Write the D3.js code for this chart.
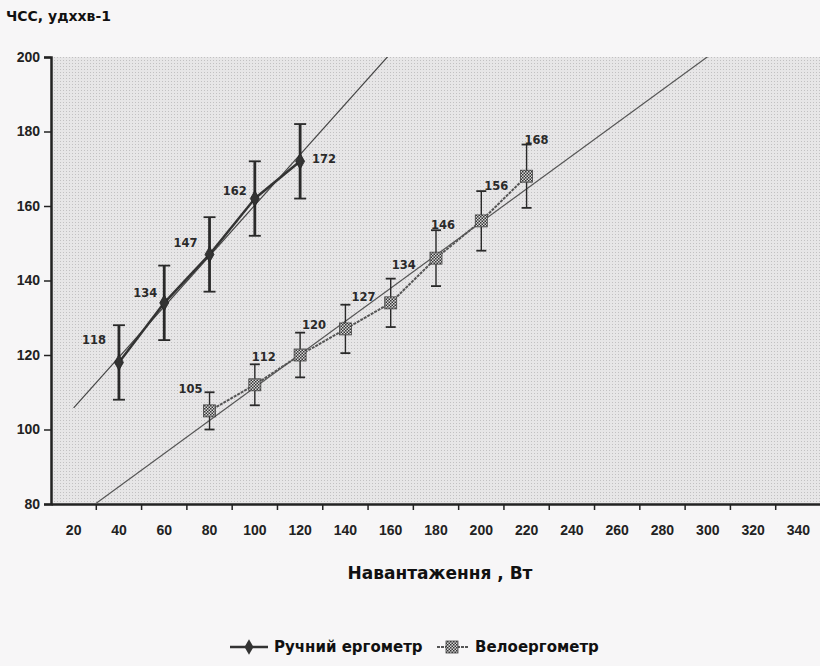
<!DOCTYPE html>
<html>
<head>
<meta charset="utf-8">
<script src="https://cdn.jsdelivr.net/npm/d3@7"></script>
<style>
  body { margin: 0; background: #f7f6f7; }
  svg { font-family: "DejaVu Sans", "Liberation Sans", Arial, sans-serif; }
</style>
</head>
<body>
<div id="chart"></div>
<script>
// chart values
const categories = [20, 40, 60, 80, 100, 120, 140, 160, 180, 200, 220, 240, 260, 280, 300, 320, 340]
const yTicks = [80, 100, 120, 140, 160, 180, 200]

const manualLoad = [40, 60, 80, 100, 120]
const manualHR = [118, 134, 147, 162, 172]
const manualErr = [10, 10, 10, 10, 10]

const bikeLoad = [80, 100, 120, 140, 160, 180, 200, 220]
const bikeHR = [105, 112, 120, 127, 134, 146, 156, 168]
const bikeErr = [5, 5.5, 6, 6.5, 6.5, 7.5, 8, 8.5]

// label placement (layout only): dx, dy, anchor
const manualLabelPos = [[-13, -18, "end"], [-7, -6, "end"], [-12, -7, "end"], [-8, -4, "end"], [12, 2, "start"]]
const bikeLabelPos = [[-7, -18, "end"], [-3, -24, "start"], [2, -26, "start"], [6, -28, "start"],
  [1, -34, "start"], [-5, -29, "start"], [3, -31, "start"], [-2, -32, "start"]]

const MARGIN = { LEFT: 51, TOP: 57 }
const WIDTH = 770
const HEIGHT = 447

const svg = d3.select("#chart").append("svg")
  .attr("width", 820)
  .attr("height", 666)

const defs = svg.append("defs")
const stipple = defs.append("pattern")
  .attr("id", "stipple")
  .attr("width", 3).attr("height", 3)
  .attr("patternUnits", "userSpaceOnUse")
stipple.append("rect").attr("width", 3).attr("height", 3).attr("fill", "#e7e6e7")
stipple.append("rect").attr("width", 1).attr("height", 1).attr("fill", "#c2c1c2")

const checker = defs.append("pattern")
  .attr("id", "checker")
  .attr("width", 3).attr("height", 3)
  .attr("patternUnits", "userSpaceOnUse")
checker.append("rect").attr("width", 3).attr("height", 3).attr("fill", "#d8d8d8")
checker.append("rect").attr("width", 1.5).attr("height", 1.5).attr("fill", "#333")
checker.append("rect").attr("x", 1.5).attr("y", 1.5).attr("width", 1.5).attr("height", 1.5).attr("fill", "#333")

defs.append("clipPath").attr("id", "plotClip")
  .append("rect").attr("width", WIDTH).attr("height", HEIGHT)

const g = svg.append("g").attr("transform", `translate(${MARGIN.LEFT}, ${MARGIN.TOP})`)

g.append("rect").attr("width", WIDTH).attr("height", HEIGHT).attr("fill", "url(#stipple)")

const x = d3.scaleBand().domain(categories).range([0, WIDTH]).padding(0)
const bw = x.bandwidth()
const cx = v => x(v) + bw / 2
// continuous version of the category axis, for trend lines
const xLin = d3.scaleLinear().domain([20, 340]).range([cx(20), cx(340)])
const y = d3.scaleLinear().domain([80, 200]).range([HEIGHT, 0])

// y axis
const yAxis = g.append("g")
  .call(d3.axisLeft(y).tickValues(yTicks).tickSize(7).tickPadding(4))
yAxis.select(".domain").attr("stroke", "#222").attr("stroke-width", 2.5)
yAxis.selectAll(".tick line").attr("stroke", "#222").attr("stroke-width", 1.5)
yAxis.selectAll("text").attr("font-size", "14px").attr("font-weight", "bold").attr("fill", "#222")

// x axis (category labels between boundary ticks)
const xAxis = g.append("g")
  .attr("transform", `translate(0, ${HEIGHT})`)
  .call(d3.axisBottom(x).tickSize(0).tickPadding(21))
xAxis.select(".domain").attr("stroke", "#222").attr("stroke-width", 2.5)
xAxis.selectAll("text").attr("font-size", "14px").attr("font-weight", "bold").attr("fill", "#222")
xAxis.selectAll(".bound")
  .data(categories.slice(1).concat(["end"]))
  .join("line")
  .attr("class", "bound")
  .attr("x1", d => d === "end" ? WIDTH : x(d))
  .attr("x2", d => d === "end" ? WIDTH : x(d))
  .attr("y1", 0).attr("y2", 6)
  .attr("stroke", "#222").attr("stroke-width", 1.5)

// linear trend lines
function trend(xs, ys) {
  const mx = d3.mean(xs), my = d3.mean(ys)
  const sxy = d3.sum(xs, (v, i) => (v - mx) * (ys[i] - my))
  const sxx = d3.sum(xs, v => (v - mx) * (v - mx))
  const b = sxy / sxx
  return v => my + b * (v - mx)
}
const plot = g.append("g").attr("clip-path", "url(#plotClip)")
const trendLine = d3.line().x(d => xLin(d[0])).y(d => y(d[1]))
const tManual = trend(manualLoad, manualHR)
const tBike = trend(bikeLoad, bikeHR)
plot.append("path")
  .attr("d", trendLine([[20, tManual(20)], [340, tManual(340)]]))
  .attr("fill", "none").attr("stroke", "#444").attr("stroke-width", 1.2)
plot.append("path")
  .attr("d", trendLine([[20, tBike(20)], [340, tBike(340)]]))
  .attr("fill", "none").attr("stroke", "#555").attr("stroke-width", 1.2)

// series lines
const manual = manualLoad.map((v, i) => ({ load: v, hr: manualHR[i], err: manualErr[i], pos: manualLabelPos[i] }))
const bike = bikeLoad.map((v, i) => ({ load: v, hr: bikeHR[i], err: bikeErr[i], pos: bikeLabelPos[i] }))
const seriesLine = d3.line().x(d => cx(d.load)).y(d => y(d.hr))

plot.append("path").datum(manual)
  .attr("d", seriesLine)
  .attr("fill", "none").attr("stroke", "#333").attr("stroke-width", 2.5)
plot.append("path").datum(bike)
  .attr("d", seriesLine)
  .attr("fill", "none").attr("stroke", "#555").attr("stroke-width", 2)
  .attr("stroke-dasharray", "3,1")

// error bars
function errorBars(data, width, cap) {
  const eb = plot.append("g")
  eb.selectAll(".v").data(data).join("line")
    .attr("x1", d => cx(d.load)).attr("x2", d => cx(d.load))
    .attr("y1", d => y(d.hr + d.err)).attr("y2", d => y(d.hr - d.err))
    .attr("stroke", "#2a2a2a").attr("stroke-width", width)
  eb.selectAll(".t").data(data).join("line")
    .attr("x1", d => cx(d.load) - cap).attr("x2", d => cx(d.load) + cap)
    .attr("y1", d => y(d.hr + d.err)).attr("y2", d => y(d.hr + d.err))
    .attr("stroke", "#2a2a2a").attr("stroke-width", 1.8)
  eb.selectAll(".b").data(data).join("line")
    .attr("x1", d => cx(d.load) - cap).attr("x2", d => cx(d.load) + cap)
    .attr("y1", d => y(d.hr - d.err)).attr("y2", d => y(d.hr - d.err))
    .attr("stroke", "#2a2a2a").attr("stroke-width", 1.8)
}
errorBars(manual, 2.8, 6)
errorBars(bike, 1.4, 5)

// markers
const diamond = d3.symbol().type(d3.symbolDiamond).size(70)
plot.selectAll(".mk1").data(manual).join("path")
  .attr("transform", d => `translate(${cx(d.load)}, ${y(d.hr)})`)
  .attr("d", diamond)
  .attr("fill", "#333").attr("stroke", "#222").attr("stroke-width", 0.8)

plot.selectAll(".mk2").data(bike).join("rect")
  .attr("x", d => cx(d.load) - 6).attr("y", d => y(d.hr) - 6)
  .attr("width", 12).attr("height", 12)
  .attr("fill", "url(#checker)").attr("stroke", "#444").attr("stroke-width", 0.8)

// data labels
function labels(data) {
  g.append("g").selectAll("text").data(data).join("text")
    .attr("x", d => cx(d.load) + d.pos[0])
    .attr("y", d => y(d.hr) + d.pos[1])
    .attr("text-anchor", d => d.pos[2])
    .attr("font-size", "11.5px").attr("font-weight", "bold").attr("fill", "#2a2a2a")
    .text(d => d.hr)
}
labels(manual)
labels(bike)

// titles
svg.append("text")
  .attr("x", 6).attr("y", 21)
  .attr("font-size", "14px").attr("font-weight", "bold").attr("fill", "#111")
  .text("ЧСС, удxхв-1")

svg.append("text")
  .attr("x", 440).attr("y", 579)
  .attr("text-anchor", "middle")
  .attr("font-size", "17px").attr("font-weight", "bold").attr("fill", "#111")
  .text("Навантаження , Вт")

// legend
const legend = svg.append("g").attr("transform", "translate(0, 647)")
legend.append("line").attr("x1", 230).attr("x2", 268).attr("stroke", "#333").attr("stroke-width", 2.5)
legend.append("path").attr("transform", "translate(249, 0)").attr("d", diamond).attr("fill", "#333")
legend.append("text").attr("x", 274).attr("y", 5)
  .attr("font-size", "15px").attr("font-weight", "bold").attr("fill", "#111")
  .text("Ручний ергометр")
legend.append("line").attr("x1", 437).attr("x2", 468).attr("stroke", "#555")
  .attr("stroke-width", 2).attr("stroke-dasharray", "3,1")
legend.append("rect").attr("x", 446).attr("y", -6).attr("width", 12).attr("height", 12)
  .attr("fill", "url(#checker)").attr("stroke", "#444").attr("stroke-width", 0.8)
legend.append("text").attr("x", 475).attr("y", 5)
  .attr("font-size", "15px").attr("font-weight", "bold").attr("fill", "#111")
  .text("Велоергометр")
</script>
</body>
</html>
